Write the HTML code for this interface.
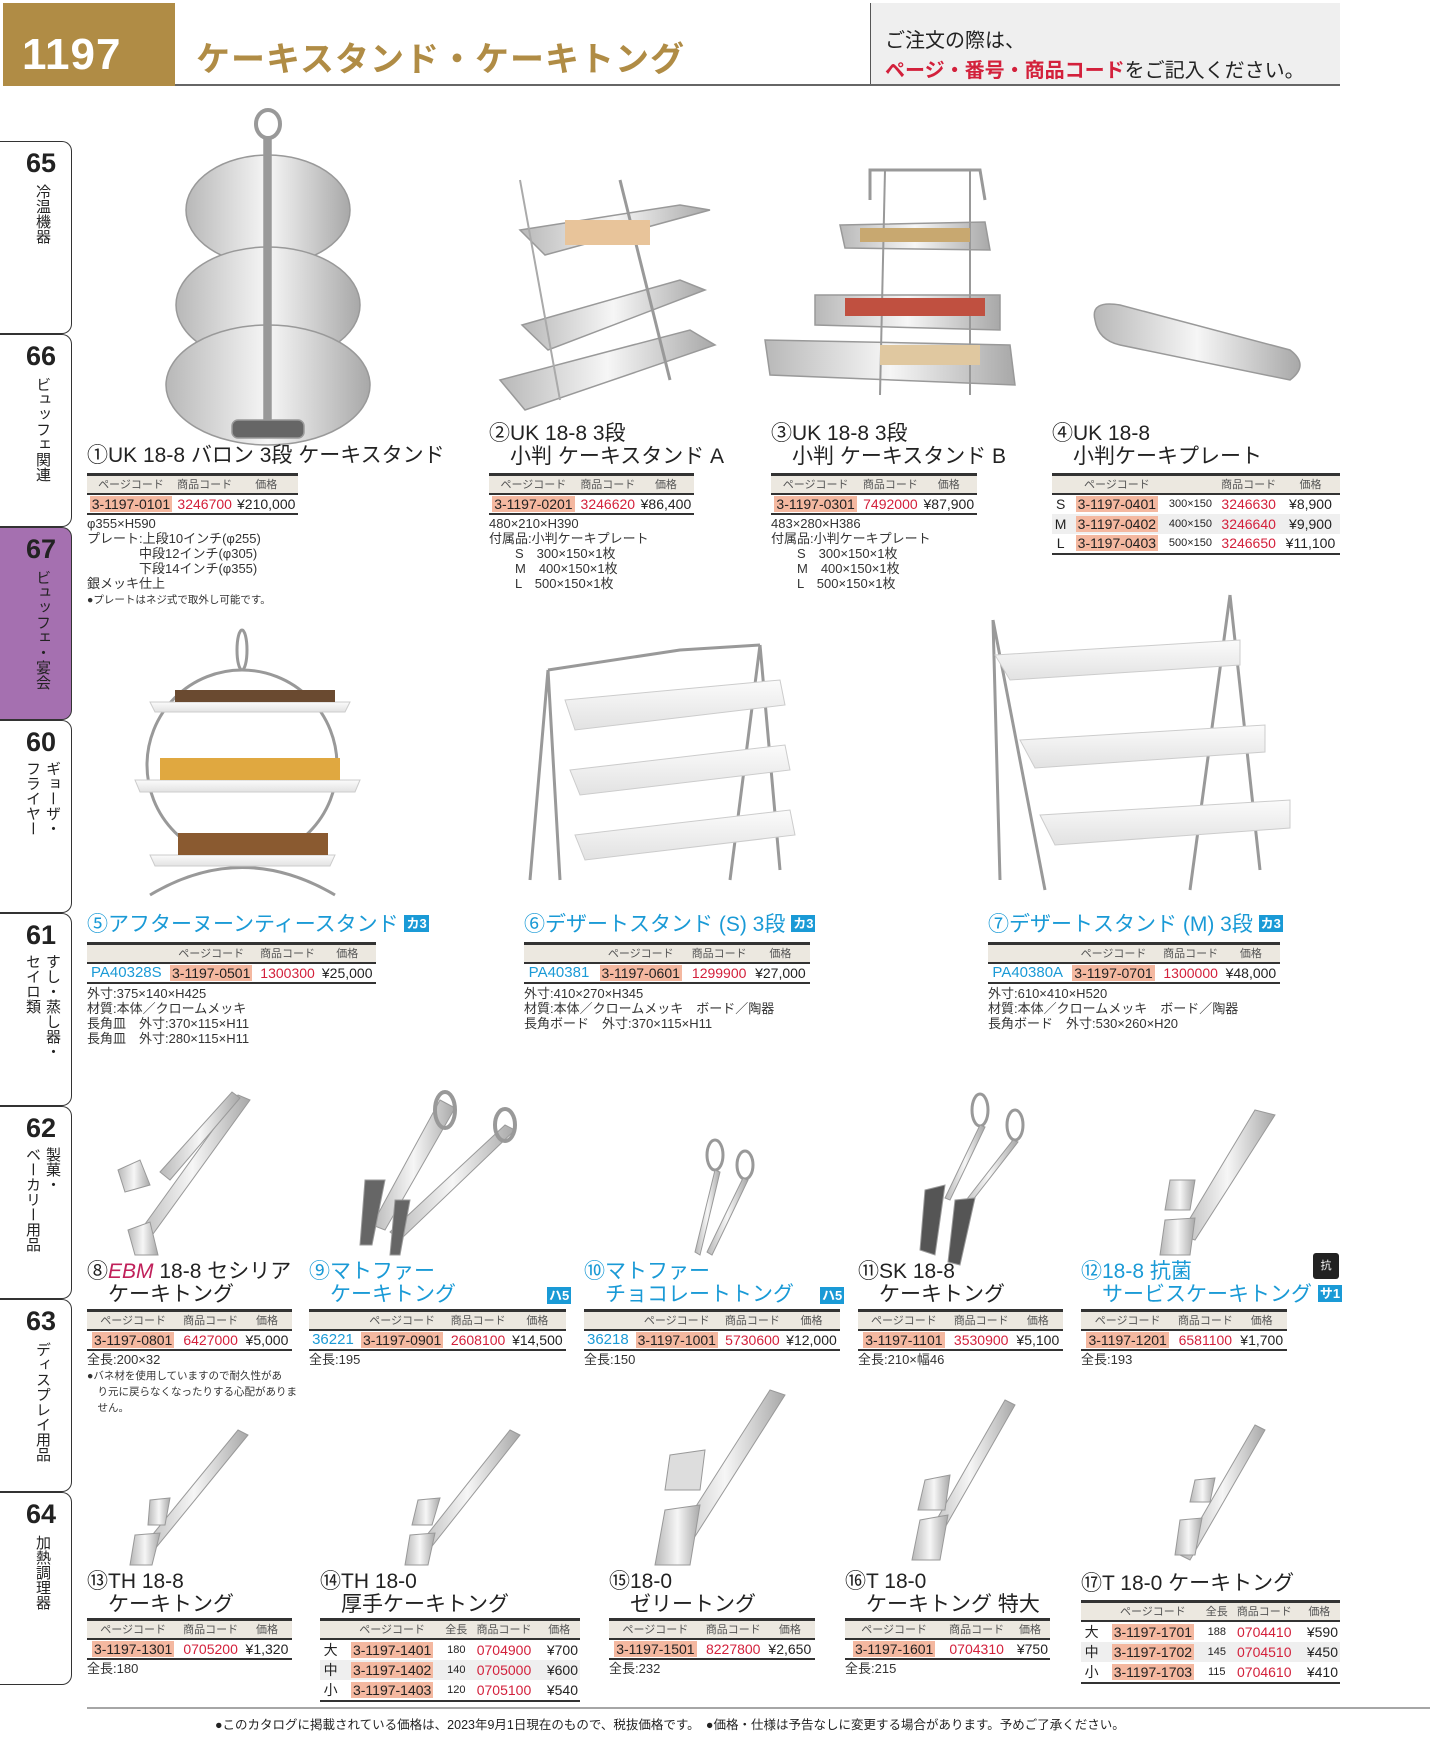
<!DOCTYPE html>
<html><head><meta charset="utf-8">
<style>
*{margin:0;padding:0;box-sizing:border-box}
body{width:1444px;height:1754px;background:#fff;position:relative;overflow:hidden;font-family:"Liberation Sans","Noto Sans CJK JP",sans-serif;color:#222}
.a{position:absolute}
.ti{position:absolute;font-size:21px;line-height:23px;color:#222;white-space:nowrap}
.bl{color:#1a9ad6}
.bd{display:inline-block;background:#1a9ad6;color:#fff;font-size:13px;line-height:17px;padding:0 2px;vertical-align:3px;font-weight:bold}
table.t{position:absolute;border-collapse:collapse;border-top:3px solid #333;border-bottom:2px solid #333;font-size:14px;white-space:nowrap}
table.t th{background:#ece8e0;font-weight:normal;font-size:11px;color:#555;height:19px;border-bottom:2px solid #333;text-align:center}
table.t td{height:20px;text-align:center;padding:0 2px}
table.t tr.g td{background:#efefef}
table.t td.pc span{background:#f4b8a0;padding:0 2px}
.cd{color:#d3203b}
.pa{color:#1a9ad6;font-size:15px}
.nt{position:absolute;font-size:13px;line-height:15px;color:#333;white-space:nowrap}
.tab{position:absolute;left:0;width:72px;height:193px;border:1.5px solid #333;border-left:none;border-radius:0 10px 10px 0;background:#fff}
.tab b{position:absolute;left:26px;top:6px;font-size:27px;font-weight:900;color:#222;font-family:"Liberation Sans",sans-serif}
.tab i{position:absolute;font-style:normal;font-size:15px;line-height:16px;writing-mode:vertical-rl;color:#222;white-space:nowrap}
</style></head><body>

<div class="a" style="left:3px;top:3px;width:172px;height:83px;background:#b08c45"></div>
<div class="a" style="left:22px;top:30px;font-size:44px;font-weight:bold;color:#fff;letter-spacing:1px">1197</div>
<div class="a" style="left:196px;top:32px;font-size:34px;font-weight:bold;color:#b08c45;letter-spacing:1px">ケーキスタンド・ケーキトング</div>
<div class="a" style="left:870px;top:3px;width:470px;height:83px;background:#efefef;border-left:1.5px solid #555"></div>
<div class="a" style="left:885px;top:24px;font-size:20px;color:#222">ご注文の際は、</div>
<div class="a" style="left:885px;top:54px;font-size:20px;color:#222;white-space:nowrap"><span style="color:#d3203b;font-weight:bold">ページ・番号・商品コード</span>をご記入ください。</div>
<div class="a" style="left:175px;top:84px;width:1165px;height:2px;background:#666"></div>

<div class="tab" style="top:141px"><b>65</b><i style="left:34px;top:42px">冷温機器</i></div>
<div class="tab" style="top:334px"><b>66</b><i style="left:34px;top:42px">ビュッフェ関連</i></div>
<div class="tab" style="top:527px;background:#a570b0"><b>67</b><i style="left:34px;top:42px">ビュッフェ・宴会</i></div>
<div class="tab" style="top:720px"><b>60</b><i style="left:44px;top:40px">ギョーザ・</i><i style="left:24px;top:40px">フライヤー</i></div>
<div class="tab" style="top:913px"><b>61</b><i style="left:44px;top:40px">すし・蒸し器・</i><i style="left:24px;top:40px">セイロ類</i></div>
<div class="tab" style="top:1106px"><b>62</b><i style="left:44px;top:40px">製菓・</i><i style="left:24px;top:40px">ベーカリー用品</i></div>
<div class="tab" style="top:1299px"><b>63</b><i style="left:34px;top:42px">ディスプレイ用品</i></div>
<div class="tab" style="top:1492px"><b>64</b><i style="left:34px;top:42px">加熱調理器</i></div>

<svg class="a" style="left:0;top:0" width="1444" height="1754">
<defs>
<linearGradient id="m" x1="0" x2="1"><stop offset="0" stop-color="#b8b8b8"/><stop offset=".5" stop-color="#f6f6f6"/><stop offset="1" stop-color="#a8a8a8"/></linearGradient>
<linearGradient id="w" x1="0" x2="0" y1="0" y2="1"><stop offset="0" stop-color="#fbfbfb"/><stop offset="1" stop-color="#e2e2e2"/></linearGradient>
</defs>
<g fill="url(#m)" stroke="#999" stroke-width="1.5">
<ellipse cx="268" cy="124" rx="12" ry="14" fill="none" stroke-width="4"/>
<ellipse cx="268" cy="210" rx="82" ry="55"/>
<ellipse cx="268" cy="305" rx="92" ry="58"/>
<ellipse cx="268" cy="385" rx="102" ry="60"/>
<rect x="264" y="138" width="7" height="290" fill="#999"/>
<rect x="232" y="420" width="72" height="18" rx="6" fill="#666"/>
<path d="M520 230 L680 205 L710 210 L545 255 Z"/>
<path d="M522 325 L680 280 L705 290 L548 350 Z"/>
<path d="M500 380 L690 330 L715 345 L525 410 Z"/>
<line x1="620" y1="180" x2="670" y2="380" stroke="#999" stroke-width="3"/>
<line x1="520" y1="180" x2="560" y2="400" stroke="#aaa" stroke-width="2"/>
<path d="M840 225 L985 222 L990 250 L845 248 Z"/>
<path d="M815 295 L1000 295 L1000 330 L815 325 Z"/>
<path d="M765 340 L1010 345 L1015 385 L770 375 Z"/>
<path d="M870 200 L870 170 L980 170 L985 200" fill="none" stroke-width="3"/>
<line x1="885" y1="170" x2="880" y2="395" stroke="#999" stroke-width="2"/>
<line x1="970" y1="170" x2="970" y2="395" stroke="#999" stroke-width="2"/>
<path d="M1095 320 Q1090 300 1120 305 L1290 350 Q1310 365 1290 380 L1120 345 Q1098 340 1095 320 Z"/>
</g>
<g stroke="#999" stroke-width="3" fill="none">
<circle cx="242" cy="765" r="95"/>
<ellipse cx="242" cy="650" rx="5" ry="20"/>
<path d="M150 895 Q242 840 335 895"/>
<path d="M548 670 L530 880 M548 670 L560 880 M760 645 L780 870 M760 645 L730 880"/>
<path d="M548 670 L680 650 L760 645"/>
<path d="M993 620 L1000 880 M993 620 L1045 890 M1230 595 L1260 870 M1230 595 L1190 890"/>
</g>
<g fill="url(#w)" stroke="#ccc">
<path d="M150 702 L350 702 L345 712 L155 712 Z"/>
<path d="M135 780 L360 780 L355 792 L140 792 Z"/>
<path d="M150 855 L335 855 L330 866 L155 866 Z"/>
<path d="M565 700 L780 680 L785 705 L575 730 Z"/>
<path d="M570 770 L785 745 L790 770 L580 795 Z"/>
<path d="M575 835 L790 810 L795 835 L585 860 Z"/>
<path d="M995 655 L1240 640 L1240 665 L1010 680 Z"/>
<path d="M1020 740 L1265 725 L1265 752 L1035 768 Z"/>
<path d="M1040 815 L1290 800 L1290 828 L1055 845 Z"/>
</g>
<g stroke="none">
<rect x="565" y="220" width="85" height="25" fill="#e8c49a"/>
<rect x="860" y="228" width="110" height="14" fill="#c8a870"/>
<rect x="845" y="298" width="140" height="18" fill="#c05040"/>
<rect x="880" y="345" width="100" height="20" fill="#e0c8a0"/>
<rect x="175" y="690" width="160" height="12" fill="#6a4a30"/>
<rect x="160" y="758" width="180" height="22" fill="#e0a840"/>
<rect x="178" y="833" width="150" height="22" fill="#8a5a30"/>
</g>
<g fill="url(#m)" stroke="#999" stroke-width="1">
<path d="M238 1095 L250 1100 L145 1245 L135 1238 Z"/><path d="M128 1230 L150 1222 L158 1255 L135 1255 Z"/>
<path d="M240 1098 L170 1180 L160 1172 L232 1092 Z"/><path d="M118 1170 L140 1160 L150 1185 L125 1192 Z"/>
<path d="M440 1100 L455 1108 L385 1230 L372 1225 Z"/><path d="M505 1125 L515 1130 L400 1240 L390 1232 Z"/>
<ellipse cx="445" cy="1110" rx="10" ry="18" fill="none" stroke-width="4" stroke="#999"/><ellipse cx="505" cy="1125" rx="10" ry="16" fill="none" stroke-width="4" stroke="#999"/>
<path d="M365 1180 L385 1180 L372 1245 L360 1245 Z" fill="#666"/><path d="M395 1200 L410 1200 L400 1255 L390 1255 Z" fill="#666"/>
<ellipse cx="715" cy="1155" rx="8" ry="15" fill="none" stroke-width="3" stroke="#999"/><ellipse cx="745" cy="1165" rx="8" ry="14" fill="none" stroke-width="3" stroke="#999"/>
<path d="M715 1170 L720 1172 L700 1255 L695 1252 Z"/><path d="M743 1178 L748 1180 L712 1255 L707 1252 Z"/>
<ellipse cx="980" cy="1110" rx="8" ry="16" fill="none" stroke-width="3" stroke="#999"/><ellipse cx="1015" cy="1125" rx="8" ry="15" fill="none" stroke-width="3" stroke="#999"/>
<path d="M980 1125 L985 1127 L950 1200 L945 1198 Z"/><path d="M1013 1140 L1018 1142 L965 1210 L960 1208 Z"/>
<path d="M925 1190 L945 1185 L935 1255 L920 1250 Z" fill="#555"/><path d="M955 1200 L975 1198 L960 1265 L948 1262 Z" fill="#555"/>
<path d="M1255 1110 L1275 1115 L1195 1240 L1180 1235 Z"/><path d="M1170 1180 L1195 1180 L1190 1210 L1165 1210 Z"/><path d="M1165 1220 L1195 1218 L1190 1255 L1160 1255 Z"/>
<path d="M238 1430 L248 1435 L150 1555 L140 1550 Z"/><path d="M150 1500 L170 1498 L165 1525 L148 1525 Z"/><path d="M135 1535 L160 1533 L152 1565 L130 1565 Z"/>
<path d="M510 1430 L520 1435 L425 1555 L415 1550 Z"/><path d="M418 1500 L440 1498 L432 1525 L412 1525 Z"/><path d="M410 1535 L435 1533 L428 1565 L405 1565 Z"/>
<path d="M770 1390 L785 1395 L680 1560 L665 1555 Z"/><path d="M670 1455 L705 1450 L700 1490 L665 1490 Z" fill="#ddd"/><path d="M665 1510 L700 1505 L690 1565 L655 1565 Z"/>
<path d="M1005 1400 L1015 1405 L935 1545 L925 1540 Z"/><path d="M925 1480 L950 1475 L945 1510 L918 1510 Z"/><path d="M920 1520 L948 1515 L940 1560 L912 1560 Z"/>
<path d="M1255 1425 L1265 1430 L1190 1560 L1180 1555 Z"/><path d="M1195 1480 L1215 1478 L1210 1502 L1190 1502 Z"/><path d="M1180 1520 L1202 1518 L1195 1555 L1175 1555 Z"/>
</g>
<line x1="87" y1="1708" x2="1430" y2="1708" stroke="#888" stroke-width="1.5"/>
</svg>

<div class="ti" style="left:87px;top:444px">①UK 18-8 バロン 3段 ケーキスタンド</div>
<table class="t" style="left:87px;top:473px;width:211px"><tr><th>ページコード</th><th>商品コード</th><th>価格</th></tr><tr><td class="pc"><span>3-1197-0101</span></td><td class="cd">3246700</td><td>¥210,000</td></tr></table>
<div class="nt" style="left:87px;top:516px">φ355×H590<br>プレート:上段10インチ(φ255)<br>　　　　中段12インチ(φ305)<br>　　　　下段14インチ(φ355)<br>銀メッキ仕上<br><span style="font-size:10.5px">●プレートはネジ式で取外し可能です。</span></div>

<div class="ti" style="left:489px;top:422px">②UK 18-8 3段<br>　小判 ケーキスタンド A</div>
<table class="t" style="left:489px;top:473px;width:205px"><tr><th>ページコード</th><th>商品コード</th><th>価格</th></tr><tr><td class="pc"><span>3-1197-0201</span></td><td class="cd">3246620</td><td>¥86,400</td></tr></table>
<div class="nt" style="left:489px;top:516px">480×210×H390<br>付属品:小判ケーキプレート<br>　　S　300×150×1枚<br>　　M　400×150×1枚<br>　　L　500×150×1枚</div>

<div class="ti" style="left:771px;top:422px">③UK 18-8 3段<br>　小判 ケーキスタンド B</div>
<table class="t" style="left:771px;top:473px;width:206px"><tr><th>ページコード</th><th>商品コード</th><th>価格</th></tr><tr><td class="pc"><span>3-1197-0301</span></td><td class="cd">7492000</td><td>¥87,900</td></tr></table>
<div class="nt" style="left:771px;top:516px">483×280×H386<br>付属品:小判ケーキプレート<br>　　S　300×150×1枚<br>　　M　400×150×1枚<br>　　L　500×150×1枚</div>

<div class="ti" style="left:1052px;top:422px">④UK 18-8<br>　小判ケーキプレート</div>
<table class="t" style="left:1052px;top:473px;width:288px"><tr><th></th><th>ページコード</th><th></th><th>商品コード</th><th>価格</th></tr>
<tr><td>S</td><td class="pc"><span>3-1197-0401</span></td><td style="font-size:11px">300×150</td><td class="cd">3246630</td><td>¥8,900</td></tr>
<tr class="g"><td>M</td><td class="pc"><span>3-1197-0402</span></td><td style="font-size:11px">400×150</td><td class="cd">3246640</td><td>¥9,900</td></tr>
<tr><td>L</td><td class="pc"><span>3-1197-0403</span></td><td style="font-size:11px">500×150</td><td class="cd">3246650</td><td>¥11,100</td></tr></table>

<div class="ti bl" style="left:87px;top:913px">⑤アフターヌーンティースタンド <span class="bd">カ3</span></div>
<table class="t" style="left:87px;top:942px;width:289px"><tr><th></th><th>ページコード</th><th>商品コード</th><th>価格</th></tr><tr><td class="pa">PA40328S</td><td class="pc"><span>3-1197-0501</span></td><td class="cd">1300300</td><td>¥25,000</td></tr></table>
<div class="nt" style="left:87px;top:986px">外寸:375×140×H425<br>材質:本体／クロームメッキ<br>長角皿　外寸:370×115×H11<br>長角皿　外寸:280×115×H11</div>

<div class="ti bl" style="left:524px;top:913px">⑥デザートスタンド (S) 3段 <span class="bd">カ3</span></div>
<table class="t" style="left:524px;top:942px;width:286px"><tr><th></th><th>ページコード</th><th>商品コード</th><th>価格</th></tr><tr><td class="pa">PA40381</td><td class="pc"><span>3-1197-0601</span></td><td class="cd">1299900</td><td>¥27,000</td></tr></table>
<div class="nt" style="left:524px;top:986px">外寸:410×270×H345<br>材質:本体／クロームメッキ　ボード／陶器<br>長角ボード　外寸:370×115×H11</div>

<div class="ti bl" style="left:988px;top:913px">⑦デザートスタンド (M) 3段 <span class="bd">カ3</span></div>
<table class="t" style="left:988px;top:942px;width:292px"><tr><th></th><th>ページコード</th><th>商品コード</th><th>価格</th></tr><tr><td class="pa">PA40380A</td><td class="pc"><span>3-1197-0701</span></td><td class="cd">1300000</td><td>¥48,000</td></tr></table>
<div class="nt" style="left:988px;top:986px">外寸:610×410×H520<br>材質:本体／クロームメッキ　ボード／陶器<br>長角ボード　外寸:530×260×H20</div>

<div class="ti" style="left:87px;top:1260px">⑧<i style="color:#c0205a">EBM</i> 18-8 セシリア<br>　ケーキトング</div>
<table class="t" style="left:87px;top:1309px;width:205px"><tr><th>ページコード</th><th>商品コード</th><th>価格</th></tr><tr><td class="pc"><span>3-1197-0801</span></td><td class="cd">6427000</td><td>¥5,000</td></tr></table>
<div class="nt" style="left:87px;top:1352px">全長:200×32<br><span style="font-size:10.5px;line-height:13px">●バネ材を使用していますので耐久性があ<br>　り元に戻らなくなったりする心配がありま<br>　せん。</span></div>

<div class="ti bl" style="left:309px;top:1260px">⑨マトファー<br>　ケーキトング</div>
<div class="a bd" style="left:547px;top:1287px">ハ5</div>
<table class="t" style="left:309px;top:1309px;width:257px"><tr><th></th><th>ページコード</th><th>商品コード</th><th>価格</th></tr><tr><td class="pa">36221</td><td class="pc"><span>3-1197-0901</span></td><td class="cd">2608100</td><td>¥14,500</td></tr></table>
<div class="nt" style="left:309px;top:1352px">全長:195</div>

<div class="ti bl" style="left:584px;top:1260px">⑩マトファー<br>　チョコレートトング</div>
<div class="a bd" style="left:820px;top:1287px">ハ5</div>
<table class="t" style="left:584px;top:1309px;width:256px"><tr><th></th><th>ページコード</th><th>商品コード</th><th>価格</th></tr><tr><td class="pa">36218</td><td class="pc"><span>3-1197-1001</span></td><td class="cd">5730600</td><td>¥12,000</td></tr></table>
<div class="nt" style="left:584px;top:1352px">全長:150</div>

<div class="ti" style="left:858px;top:1260px">⑪SK 18-8<br>　ケーキトング</div>
<table class="t" style="left:858px;top:1309px;width:205px"><tr><th>ページコード</th><th>商品コード</th><th>価格</th></tr><tr><td class="pc"><span>3-1197-1101</span></td><td class="cd">3530900</td><td>¥5,100</td></tr></table>
<div class="nt" style="left:858px;top:1352px">全長:210×幅46</div>

<div class="a" style="left:1313px;top:1253px;width:26px;height:26px;background:#222;border-radius:3px;color:#fff;font-size:11px;text-align:center;line-height:26px">抗</div>
<div class="ti bl" style="left:1081px;top:1260px">⑫18-8 抗菌<br>　サービスケーキトング <span class="bd">サ1</span></div>
<table class="t" style="left:1081px;top:1309px;width:206px"><tr><th>ページコード</th><th>商品コード</th><th>価格</th></tr><tr><td class="pc"><span>3-1197-1201</span></td><td class="cd">6581100</td><td>¥1,700</td></tr></table>
<div class="nt" style="left:1081px;top:1352px">全長:193</div>

<div class="ti" style="left:87px;top:1570px">⑬TH 18-8<br>　ケーキトング</div>
<table class="t" style="left:87px;top:1618px;width:205px"><tr><th>ページコード</th><th>商品コード</th><th>価格</th></tr><tr><td class="pc"><span>3-1197-1301</span></td><td class="cd">0705200</td><td>¥1,320</td></tr></table>
<div class="nt" style="left:87px;top:1661px">全長:180</div>

<div class="ti" style="left:320px;top:1570px">⑭TH 18-0<br>　厚手ケーキトング</div>
<table class="t" style="left:320px;top:1618px;width:260px"><tr><th></th><th>ページコード</th><th>全長</th><th>商品コード</th><th>価格</th></tr>
<tr><td>大</td><td class="pc"><span>3-1197-1401</span></td><td style="font-size:11px">180</td><td class="cd">0704900</td><td style="text-align:right">¥700</td></tr>
<tr class="g"><td>中</td><td class="pc"><span>3-1197-1402</span></td><td style="font-size:11px">140</td><td class="cd">0705000</td><td style="text-align:right">¥600</td></tr>
<tr><td>小</td><td class="pc"><span>3-1197-1403</span></td><td style="font-size:11px">120</td><td class="cd">0705100</td><td style="text-align:right">¥540</td></tr></table>

<div class="ti" style="left:609px;top:1570px">⑮18-0<br>　ゼリートング</div>
<table class="t" style="left:609px;top:1618px;width:206px"><tr><th>ページコード</th><th>商品コード</th><th>価格</th></tr><tr><td class="pc"><span>3-1197-1501</span></td><td class="cd">8227800</td><td>¥2,650</td></tr></table>
<div class="nt" style="left:609px;top:1661px">全長:232</div>

<div class="ti" style="left:845px;top:1570px">⑯T 18-0<br>　ケーキトング 特大</div>
<table class="t" style="left:845px;top:1618px;width:205px"><tr><th>ページコード</th><th>商品コード</th><th>価格</th></tr><tr><td class="pc"><span>3-1197-1601</span></td><td class="cd">0704310</td><td style="text-align:right">¥750</td></tr></table>
<div class="nt" style="left:845px;top:1661px">全長:215</div>

<div class="ti" style="left:1081px;top:1572px">⑰T 18-0 ケーキトング</div>
<table class="t" style="left:1081px;top:1600px;width:259px"><tr><th></th><th>ページコード</th><th>全長</th><th>商品コード</th><th>価格</th></tr>
<tr><td>大</td><td class="pc"><span>3-1197-1701</span></td><td style="font-size:11px">188</td><td class="cd">0704410</td><td style="text-align:right">¥590</td></tr>
<tr class="g"><td>中</td><td class="pc"><span>3-1197-1702</span></td><td style="font-size:11px">145</td><td class="cd">0704510</td><td style="text-align:right">¥450</td></tr>
<tr><td>小</td><td class="pc"><span>3-1197-1703</span></td><td style="font-size:11px">115</td><td class="cd">0704610</td><td style="text-align:right">¥410</td></tr></table>

<div class="a" style="left:215px;top:1714px;font-size:12.5px;color:#222;white-space:nowrap">●このカタログに掲載されている価格は、2023年9月1日現在のもので、税抜価格です。　●価格・仕様は予告なしに変更する場合があります。予めご了承ください。</div>
</body></html>
